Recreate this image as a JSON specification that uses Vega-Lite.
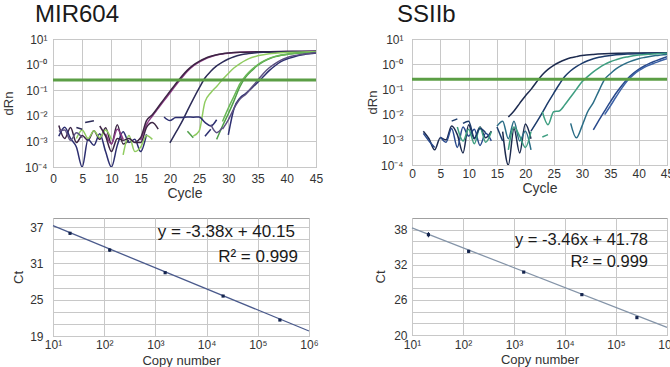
{
 "$schema": "https://vega.github.io/schema/vega-lite/v6.json",
 "background": "white",
 "padding": {"left": 1, "top": 2, "right": 0, "bottom": 0},
 "config": {
  "font": "Liberation Sans",
  "view": {"stroke": "#a0a0a0", "strokeWidth": 1},
  "axis": {"domain": false, "ticks": false, "grid": true, "gridColor": "#c8c8c8", "gridOpacity": 1, "labelFont": "Liberation Sans", "labelFontSize": 12, "labelColor": "#333333", "titleFont": "Liberation Sans", "titleFontSize": 13, "titleFontWeight": "normal", "titleColor": "#333333", "labelFlush": false, "labelOverlap": false},
  "title": {"font": "Liberation Sans", "fontSize": 24, "fontWeight": "normal", "color": "#1a1a1a", "anchor": "start"}
 },
 "datasets": {
  "mir": [
   {"s":"A1","c":15,"v":0.0011},{"s":"A1","c":16,"v":0.0045},{"s":"A1","c":17,"v":0.0098},{"s":"A1","c":18,"v":0.0195},{"s":"A1","c":19,"v":0.039},{"s":"A1","c":20,"v":0.078},{"s":"A1","c":21,"v":0.155},{"s":"A1","c":22,"v":0.3},{"s":"A1","c":23,"v":0.55},{"s":"A1","c":24,"v":0.89},{"s":"A1","c":25,"v":1.26},{"s":"A1","c":26,"v":1.66},{"s":"A1","c":27,"v":2.04},{"s":"A1","c":28,"v":2.37},{"s":"A1","c":29,"v":2.6},{"s":"A1","c":30,"v":2.79},{"s":"A1","c":32,"v":3.03},{"s":"A1","c":35,"v":3.16},{"s":"A1","c":40,"v":3.24},{"s":"A1","c":45,"v":3.3},
   {"s":"A2","c":14,"v":0.0009},{"s":"A2","c":15,"v":0.0014},{"s":"A2","c":16,"v":0.0065},{"s":"A2","c":17,"v":0.011},{"s":"A2","c":18,"v":0.022},{"s":"A2","c":19,"v":0.045},{"s":"A2","c":20,"v":0.089},{"s":"A2","c":21,"v":0.178},{"s":"A2","c":22,"v":0.343},{"s":"A2","c":23,"v":0.61},{"s":"A2","c":24,"v":0.955},{"s":"A2","c":25,"v":1.33},{"s":"A2","c":26,"v":1.74},{"s":"A2","c":27,"v":2.11},{"s":"A2","c":28,"v":2.43},{"s":"A2","c":29,"v":2.66},{"s":"A2","c":30,"v":2.82},{"s":"A2","c":32,"v":3.04},{"s":"A2","c":35,"v":3.16},{"s":"A2","c":40,"v":3.24},{"s":"A2","c":45,"v":3.32},
   {"s":"B","c":20,"v":0.00087},{"s":"B","c":21,"v":0.0022},{"s":"B","c":22,"v":0.0055},{"s":"B","c":23,"v":0.016},{"s":"B","c":24,"v":0.045},{"s":"B","c":25,"v":0.12},{"s":"B","c":26,"v":0.3},{"s":"B","c":27,"v":0.55},{"s":"B","c":28,"v":0.89},{"s":"B","c":29,"v":1.26},{"s":"B","c":30,"v":1.66},{"s":"B","c":31,"v":2.04},{"s":"B","c":32,"v":2.37},{"s":"B","c":33,"v":2.6},{"s":"B","c":34,"v":2.79},{"s":"B","c":36,"v":3.03},{"s":"B","c":39,"v":3.16},{"s":"B","c":42,"v":3.24},{"s":"B","c":45,"v":3.28},
   {"s":"C","c":24,"v":0.0016},{"s":"C","c":25,"v":0.0025},{"s":"C","c":26,"v":0.035},{"s":"C","c":27,"v":0.08},{"s":"C","c":28,"v":0.14},{"s":"C","c":29,"v":0.26},{"s":"C","c":30,"v":0.45},{"s":"C","c":31,"v":0.75},{"s":"C","c":32,"v":1.1},{"s":"C","c":33,"v":1.5},{"s":"C","c":34,"v":1.9},{"s":"C","c":35,"v":2.2},{"s":"C","c":36,"v":2.45},{"s":"C","c":37,"v":2.65},{"s":"C","c":38,"v":2.8},{"s":"C","c":40,"v":3.0},{"s":"C","c":43,"v":3.1},{"s":"C","c":45,"v":3.2},
   {"s":"D1","c":28,"v":0.0012},{"s":"D1","c":29,"v":0.004},{"s":"D1","c":30,"v":0.012},{"s":"D1","c":31,"v":0.04},{"s":"D1","c":32,"v":0.14},{"s":"D1","c":33,"v":0.33},{"s":"D1","c":34,"v":0.58},{"s":"D1","c":35,"v":0.92},{"s":"D1","c":36,"v":1.3},{"s":"D1","c":37,"v":1.7},{"s":"D1","c":38,"v":2.05},{"s":"D1","c":39,"v":2.3},{"s":"D1","c":40,"v":2.5},{"s":"D1","c":41,"v":2.65},{"s":"D1","c":43,"v":2.85},{"s":"D1","c":45,"v":3.0},
   {"s":"D2","c":29,"v":0.006},{"s":"D2","c":30,"v":0.02},{"s":"D2","c":31,"v":0.06},{"s":"D2","c":32,"v":0.18},{"s":"D2","c":33,"v":0.38},{"s":"D2","c":34,"v":0.64},{"s":"D2","c":35,"v":0.98},{"s":"D2","c":36,"v":1.36},{"s":"D2","c":37,"v":1.75},{"s":"D2","c":38,"v":2.08},{"s":"D2","c":39,"v":2.35},{"s":"D2","c":40,"v":2.55},{"s":"D2","c":41,"v":2.7},{"s":"D2","c":43,"v":2.9},{"s":"D2","c":45,"v":3.05},
   {"s":"E1","c":30,"v":0.0018},{"s":"E1","c":31,"v":0.02},{"s":"E1","c":32,"v":0.05},{"s":"E1","c":33,"v":0.075},{"s":"E1","c":34,"v":0.12},{"s":"E1","c":35,"v":0.2},{"s":"E1","c":36,"v":0.34},{"s":"E1","c":37,"v":0.58},{"s":"E1","c":38,"v":0.9},{"s":"E1","c":39,"v":1.3},{"s":"E1","c":40,"v":1.65},{"s":"E1","c":41,"v":1.95},{"s":"E1","c":42,"v":2.25},{"s":"E1","c":43,"v":2.5},{"s":"E1","c":45,"v":2.85},
   {"s":"E2","c":29,"v":0.003},{"s":"E2","c":30,"v":0.007},{"s":"E2","c":31,"v":0.02},{"s":"E2","c":32,"v":0.045},{"s":"E2","c":33,"v":0.07},{"s":"E2","c":34,"v":0.13},{"s":"E2","c":35,"v":0.24},{"s":"E2","c":36,"v":0.45},{"s":"E2","c":37,"v":0.75},{"s":"E2","c":38,"v":1.1},{"s":"E2","c":39,"v":1.5},{"s":"E2","c":40,"v":1.85},{"s":"E2","c":41,"v":2.15},{"s":"E2","c":42,"v":2.4},{"s":"E2","c":43,"v":2.6},{"s":"E2","c":45,"v":2.9},
   {"s":"A2","g":"a","c":1,"v":0.0042},{"s":"A2","g":"a","c":2,"v":0.0013},{"s":"A2","g":"a","c":3,"v":0.0035},{"s":"A2","g":"a","c":4,"v":0.0009},{"s":"A2","g":"a","c":5,"v":0.0017},{"s":"A2","g":"a","c":6,"v":0.0011},{"s":"A2","g":"a","c":7,"v":0.0026},{"s":"A2","g":"a","c":8,"v":0.0012},{"s":"A2","g":"a","c":9,"v":0.0034},{"s":"A2","g":"a","c":10,"v":0.0008},{"s":"A2","g":"a","c":11,"v":0.0045},{"s":"A2","g":"a","c":12,"v":0.0008},{"s":"A2","g":"a","c":13,"v":0.0011},
   {"s":"E1","g":"b","c":1,"v":0.0016},{"s":"E1","g":"b","c":2,"v":0.0036},{"s":"E1","g":"b","c":3,"v":0.0013},{"s":"E1","g":"b","c":4,"v":0.0006},{"s":"E1","g":"b","c":5,"v":0.0001},{"s":"E1","g":"b","c":6,"v":0.0012},{"s":"E1","g":"b","c":7,"v":0.0007},{"s":"E1","g":"b","c":8,"v":0.002},{"s":"E1","g":"b","c":9,"v":0.0004},{"s":"E1","g":"b","c":10,"v":0.0001},{"s":"E1","g":"b","c":11,"v":0.0007},{"s":"E1","g":"b","c":12,"v":0.0024},{"s":"E1","g":"b","c":13,"v":0.0009},{"s":"E1","g":"b","c":14,"v":0.0012},{"s":"E1","g":"b","c":15,"v":0.0004},{"s":"E1","g":"b","c":16,"v":0.0019},
   {"s":"C","g":"c","c":4,"v":0.0013},{"s":"C","g":"c","c":5,"v":0.0028},{"s":"C","g":"c","c":6,"v":0.0013},{"s":"C","g":"c","c":7,"v":0.0026},{"s":"C","g":"c","c":8,"v":0.0014},{"s":"C","g":"c","c":9,"v":0.0028},{"s":"C","g":"c","c":10,"v":0.0012},
   {"s":"C","g":"d","c":12,"v":0.0003},{"s":"C","g":"d","c":13,"v":0.0017},{"s":"C","g":"d","c":14,"v":0.0004},{"s":"C","g":"d","c":15,"v":0.0006},{"s":"C","g":"d","c":16,"v":0.0017},{"s":"C","g":"d","c":17,"v":0.0012},
   {"s":"A1","g":"e","c":9,"v":0.002},{"s":"A1","g":"e","c":10,"v":0.0008},{"s":"A1","g":"e","c":11,"v":0.003},{"s":"A1","g":"e","c":12,"v":0.0012},
   {"s":"B","g":"f","c":5.5,"v":0.0055},{"s":"B","g":"f","c":7,"v":0.0064},
   {"s":"B","g":"h","c":4,"v":0.0035},{"s":"B","g":"h","c":5,"v":0.003},
   {"s":"E1","g":"i","c":19,"v":0.009},{"s":"E1","g":"i","c":20,"v":0.0065},{"s":"E1","g":"i","c":21,"v":0.0085},{"s":"E1","g":"i","c":22,"v":0.0085},{"s":"E1","g":"i","c":23,"v":0.009},{"s":"E1","g":"i","c":24,"v":0.0088},{"s":"E1","g":"i","c":25,"v":0.009},{"s":"E1","g":"i","c":26,"v":0.0055},{"s":"E1","g":"i","c":27,"v":0.004},{"s":"E1","g":"i","c":28,"v":0.007},
   {"s":"E2","g":"j","c":1,"v":0.0025},{"s":"E2","g":"j","c":2,"v":0.0028},{"s":"E2","g":"j","c":3,"v":0.0011},{"s":"E2","g":"j","c":4,"v":0.0022},{"s":"E2","g":"j","c":5,"v":0.0014},
   {"s":"A2","g":"k","c":8,"v":0.004},{"s":"A2","g":"k","c":9,"v":0.0016},{"s":"A2","g":"k","c":10,"v":0.0004},{"s":"A2","g":"k","c":11,"v":0.0013},{"s":"A2","g":"k","c":12,"v":0.0011},{"s":"A2","g":"k","c":13,"v":0.0013},{"s":"A2","g":"k","c":14,"v":0.0009},{"s":"A2","g":"k","c":15,"v":0.0009},{"s":"A2","g":"k","c":16,"v":0.0035},{"s":"A2","g":"k","c":17,"v":0.0055},{"s":"A2","g":"k","c":18,"v":0.003},
   {"s":"D1","g":"l","c":23,"v":0.0025},{"s":"D1","g":"l","c":24,"v":0.0014},
   {"s":"E1","g":"m","c":26,"v":0.0016},{"s":"E1","g":"m","c":27,"v":0.003},
   {"s":"E2","g":"n","c":27,"v":0.0045},{"s":"E2","g":"n","c":28,"v":0.0022},{"s":"E2","g":"n","c":29,"v":0.0035}
  ],
  "ss": [
   {"s":"F","c":17,"v":0.008},{"s":"F","c":18,"v":0.014},{"s":"F","c":19,"v":0.028},{"s":"F","c":20,"v":0.055},{"s":"F","c":21,"v":0.1},{"s":"F","c":22,"v":0.2},{"s":"F","c":23,"v":0.38},{"s":"F","c":24,"v":0.62},{"s":"F","c":25,"v":0.9},{"s":"F","c":26,"v":1.2},{"s":"F","c":27,"v":1.5},{"s":"F","c":28,"v":1.8},{"s":"F","c":29,"v":2.0},{"s":"F","c":30,"v":2.2},{"s":"F","c":32,"v":2.45},{"s":"F","c":34,"v":2.6},{"s":"F","c":37,"v":2.72},{"s":"F","c":40,"v":2.8},{"s":"F","c":45,"v":2.85},
   {"s":"G","c":21,"v":0.0022},{"s":"G","c":22,"v":0.005},{"s":"G","c":23,"v":0.012},{"s":"G","c":24,"v":0.03},{"s":"G","c":25,"v":0.07},{"s":"G","c":26,"v":0.16},{"s":"G","c":27,"v":0.33},{"s":"G","c":28,"v":0.55},{"s":"G","c":29,"v":0.8},{"s":"G","c":30,"v":1.08},{"s":"G","c":31,"v":1.37},{"s":"G","c":32,"v":1.65},{"s":"G","c":33,"v":1.88},{"s":"G","c":34,"v":2.05},{"s":"G","c":36,"v":2.35},{"s":"G","c":38,"v":2.55},{"s":"G","c":41,"v":2.7},{"s":"G","c":45,"v":2.8},
   {"s":"H","c":23,"v":0.013},{"s":"H","c":24,"v":0.004},{"s":"H","c":25,"v":0.013},{"s":"H","c":26,"v":0.014},{"s":"H","c":27,"v":0.025},{"s":"H","c":28,"v":0.05},{"s":"H","c":29,"v":0.1},{"s":"H","c":30,"v":0.2},{"s":"H","c":31,"v":0.32},{"s":"H","c":32,"v":0.5},{"s":"H","c":33,"v":0.72},{"s":"H","c":34,"v":0.98},{"s":"H","c":35,"v":1.25},{"s":"H","c":36,"v":1.5},{"s":"H","c":37,"v":1.75},{"s":"H","c":38,"v":1.95},{"s":"H","c":40,"v":2.3},{"s":"H","c":42,"v":2.5},{"s":"H","c":45,"v":2.7},
   {"s":"I","c":28,"v":0.0045},{"s":"I","c":29,"v":0.0012},{"s":"I","c":30,"v":0.0035},{"s":"I","c":31,"v":0.013},{"s":"I","c":32,"v":0.03},{"s":"I","c":33,"v":0.09},{"s":"I","c":34,"v":0.25},{"s":"I","c":35,"v":0.42},{"s":"I","c":36,"v":0.65},{"s":"I","c":37,"v":0.9},{"s":"I","c":38,"v":1.15},{"s":"I","c":39,"v":1.4},{"s":"I","c":40,"v":1.65},{"s":"I","c":41,"v":1.85},{"s":"I","c":43,"v":2.2},{"s":"I","c":45,"v":2.45},
   {"s":"J1","c":32,"v":0.0025},{"s":"J1","c":33,"v":0.006},{"s":"J1","c":34,"v":0.014},{"s":"J1","c":35,"v":0.032},{"s":"J1","c":36,"v":0.07},{"s":"J1","c":37,"v":0.14},{"s":"J1","c":38,"v":0.26},{"s":"J1","c":39,"v":0.42},{"s":"J1","c":40,"v":0.62},{"s":"J1","c":41,"v":0.85},{"s":"J1","c":42,"v":1.1},{"s":"J1","c":43,"v":1.35},{"s":"J1","c":44,"v":1.65},{"s":"J1","c":45,"v":2.0},
   {"s":"J2","c":34,"v":0.01},{"s":"J2","c":35,"v":0.022},{"s":"J2","c":36,"v":0.05},{"s":"J2","c":37,"v":0.11},{"s":"J2","c":38,"v":0.22},{"s":"J2","c":39,"v":0.37},{"s":"J2","c":40,"v":0.55},{"s":"J2","c":41,"v":0.75},{"s":"J2","c":42,"v":0.95},{"s":"J2","c":43,"v":1.15},{"s":"J2","c":44,"v":1.4},{"s":"J2","c":45,"v":1.65},
   {"s":"F","g":"a","c":2,"v":0.0022},{"s":"F","g":"a","c":3,"v":0.0011},{"s":"F","g":"a","c":4,"v":0.0004},{"s":"F","g":"a","c":5,"v":0.0012},{"s":"F","g":"a","c":6,"v":0.001},{"s":"F","g":"a","c":7,"v":0.0035},{"s":"F","g":"a","c":8,"v":0.0016},{"s":"F","g":"a","c":9,"v":0.0003},{"s":"F","g":"a","c":10,"v":0.004},{"s":"F","g":"a","c":11,"v":0.0011},{"s":"F","g":"a","c":12,"v":0.0032},{"s":"F","g":"a","c":13,"v":0.0012},{"s":"F","g":"a","c":14,"v":0.0022},
   {"s":"J1","g":"b","c":2,"v":0.0018},{"s":"J1","g":"b","c":3,"v":0.0009},{"s":"J1","g":"b","c":4,"v":0.0005},
   {"s":"J1","g":"c","c":5,"v":0.0013},{"s":"J1","g":"c","c":6,"v":0.0008},{"s":"J1","g":"c","c":7,"v":0.0028},{"s":"J1","g":"c","c":8,"v":0.0005},{"s":"J1","g":"c","c":9,"v":0.0032},{"s":"J1","g":"c","c":10,"v":0.0014},{"s":"J1","g":"c","c":11,"v":0.0026},{"s":"J1","g":"c","c":12,"v":0.0006},{"s":"J1","g":"c","c":13,"v":0.0018},{"s":"J1","g":"c","c":14,"v":0.0009},
   {"s":"H","g":"d","c":8,"v":0.0032},{"s":"H","g":"d","c":9,"v":0.0009},{"s":"H","g":"d","c":10,"v":0.0026},{"s":"H","g":"d","c":11,"v":0.0007},{"s":"H","g":"d","c":12,"v":0.0031},{"s":"H","g":"d","c":13,"v":0.0008},{"s":"H","g":"d","c":14,"v":0.0021},
   {"s":"G","g":"e","c":7,"v":0.0055},{"s":"G","g":"e","c":8,"v":0.0068},
   {"s":"G","g":"f","c":9,"v":0.0045},{"s":"G","g":"f","c":10,"v":0.0055},{"s":"G","g":"f","c":11,"v":0.0012},{"s":"G","g":"f","c":12,"v":0.0028},{"s":"G","g":"f","c":13,"v":0.0019},
   {"s":"F","g":"g","c":16,"v":0.0021},{"s":"F","g":"g","c":17,"v":0.0001},{"s":"F","g":"g","c":18,"v":0.0028},{"s":"F","g":"g","c":19,"v":0.0003},{"s":"F","g":"g","c":20,"v":0.0042},{"s":"F","g":"g","c":21,"v":0.0011},
   {"s":"I","g":"h","c":15,"v":0.0035},{"s":"I","g":"h","c":16,"v":0.0055},{"s":"I","g":"h","c":17,"v":0.0011},{"s":"I","g":"h","c":18,"v":0.0055},{"s":"I","g":"h","c":19,"v":0.0009},{"s":"I","g":"h","c":20,"v":0.0022},{"s":"I","g":"h","c":21,"v":0.0004},
   {"s":"H","g":"i","c":17,"v":0.0004},{"s":"H","g":"i","c":18,"v":0.0032},{"s":"H","g":"i","c":19,"v":0.0014},{"s":"H","g":"i","c":20,"v":0.0005},{"s":"H","g":"i","c":21,"v":0.0021},
   {"s":"G","g":"j","c":15,"v":0.0032},{"s":"G","g":"j","c":16,"v":0.0009},
   {"s":"H","g":"k","c":23,"v":0.0013},{"s":"H","g":"k","c":24,"v":0.0016}
  ],
  "thr": [{"t": 0.25}],
  "bl_line": [{"n": 10, "ct": 37.23}, {"n": 1000000, "ct": 19.83}],
  "bl_pts": [
   {"n": 21.5, "ct": 35.97, "lo": 35.75, "hi": 36.2},
   {"n": 128, "ct": 33.2, "lo": 32.9, "hi": 33.5},
   {"n": 1550, "ct": 29.46, "lo": 29.35, "hi": 29.57},
   {"n": 21000, "ct": 25.6, "lo": 25.5, "hi": 25.7},
   {"n": 270000, "ct": 21.64, "lo": 21.55, "hi": 21.73}
  ],
  "bl_txt": [
   {"n": 530000, "ct": 36.2, "label": "y = -3.38x + 40.15"},
   {"n": 610000, "ct": 32.06, "label": "R² = 0.999"}
  ],
  "br_line": [{"n": 10, "ct": 38.3}, {"n": 1000000, "ct": 21.3}],
  "br_pts": [
   {"n": 21, "ct": 37.15, "lo": 36.7, "hi": 37.6},
   {"n": 129, "ct": 34.3, "lo": 34.05, "hi": 34.55},
   {"n": 1550, "ct": 30.75, "lo": 30.65, "hi": 30.85},
   {"n": 21400, "ct": 26.9, "lo": 26.8, "hi": 27.0},
   {"n": 257000, "ct": 22.97, "lo": 22.87, "hi": 23.07}
  ],
  "br_txt": [
   {"n": 424000, "ct": 36.3, "label": "y = -3.46x + 41.78"},
   {"n": 424000, "ct": 32.4, "label": "R² = 0.999"}
  ]
 },
 "bounds": "flush",
 "columns": 2,
 "spacing": {"row": 51, "column": 96},
 "resolve": {"scale": {"color": "independent"}},
 "concat": [
    {
     "width": 263, "height": 128,
     "title": {"text": "MIR604", "frame": "group", "dx": -18, "offset": 6},
     "layer": [
      {
       "data": {"name": "mir"},
       "mark": {"type": "line", "strokeWidth": 1.5, "interpolate": "monotone", "clip": true},
       "encoding": {
        "x": {"field": "c", "type": "quantitative", "scale": {"domain": [0, 45], "nice": false, "zero": false}, "axis": {"values": [0,5,10,15,20,25,30,35,40,45], "tickCount": 50, "format": "d", "title": "Cycle", "labelPadding": 6, "titlePadding": 2, "titleFontSize": 14}},
        "y": {"field": "v", "type": "quantitative", "scale": {"type": "log", "domain": [0.0001, 10], "nice": false}, "axis": {"values": [10,1,0.1,0.01,0.001,0.0001], "tickCount": 50, "labelExpr": "'10' + ['⁻⁴','⁻³','⁻²','⁻¹','⁻⁰','¹'][round(log(datum.value)/LN10)+4]", "title": "dRn", "labelPadding": 6, "titlePadding": 9}},
        "color": {"field": "s", "type": "nominal", "scale": {"domain": ["A1","A2","B","C","D1","D2","E1","E2"], "range": ["#8c3b86","#3d2544","#2c2b58","#90cc60","#4f9f48","#6ab857","#2d2f70","#5d5282"]}, "legend": null},
        "detail": {"field": "g"}
       }
      },
      {
       "data": {"name": "thr"},
       "mark": {"type": "rule", "color": "#5b9e45", "strokeWidth": 3},
       "encoding": {"y": {"field": "t", "type": "quantitative"}}
      }
     ]
    },
    {
     "width": 255, "height": 126,
     "title": {"text": "SSIIb", "frame": "group", "dx": -15, "offset": 6},
     "layer": [
      {
       "data": {"name": "ss"},
       "mark": {"type": "line", "strokeWidth": 1.5, "interpolate": "monotone", "clip": true},
       "encoding": {
        "x": {"field": "c", "type": "quantitative", "scale": {"domain": [0, 45], "nice": false, "zero": false}, "axis": {"values": [0,5,10,15,20,25,30,35,40,45], "tickCount": 50, "format": "d", "title": "Cycle", "labelPadding": 3, "titlePadding": 2, "titleFontSize": 14}},
        "y": {"field": "v", "type": "quantitative", "scale": {"type": "log", "domain": [0.0001, 10], "nice": false}, "axis": {"values": [10,1,0.1,0.01,0.001,0.0001], "tickCount": 50, "labelExpr": "'10' + ['⁻⁴','⁻³','⁻²','⁻¹','⁻⁰','¹'][round(log(datum.value)/LN10)+4]", "title": "dRn", "labelPadding": 9, "titlePadding": 1}},
        "color": {"field": "s", "type": "nominal", "scale": {"domain": ["F","G","H","I","J1","J2"], "range": ["#1d2b4f","#1c3b6b","#3e9e80","#2b6d86","#28498c","#3d62a6"]}, "legend": null},
        "detail": {"field": "g"}
       }
      },
      {
       "data": {"name": "thr"},
       "mark": {"type": "rule", "color": "#5b9e45", "strokeWidth": 3},
       "encoding": {"y": {"field": "t", "type": "quantitative"}}
      }
     ]
    },
    {
     "width": 256, "height": 118,
     "layer": [
      {
       "data": {"name": "bl_line"},
       "mark": {"type": "line", "color": "#4a5a8c", "strokeWidth": 1.3},
       "encoding": {
        "x": {"field": "n", "type": "quantitative", "scale": {"type": "log", "domain": [10, 1000000], "nice": false}, "axis": {"values": [10,100,1000,10000,100000,1000000], "tickCount": 50, "labelExpr": "'10' + ['¹','²','³','⁴','⁵','⁶'][round(log(datum.value)/LN10)-1]", "title": "Copy number", "labelPadding": 3, "titlePadding": 4}},
        "y": {"field": "ct", "type": "quantitative", "scale": {"domain": [19, 38.5], "nice": false, "zero": false}, "axis": {"values": [19,21,23,25,27,29,31,33,35,37], "tickCount": 50, "format": "d", "labelExpr": "(datum.value - 19) % 6 == 0 ? datum.label : ''", "title": "Ct", "labelPadding": 10, "titlePadding": 4}}
       }
      },
      {
       "data": {"name": "bl_pts"},
       "mark": {"type": "rule", "color": "#14244e", "strokeWidth": 1},
       "encoding": {"x": {"field": "n", "type": "quantitative"}, "y": {"field": "lo", "type": "quantitative"}, "y2": {"field": "hi"}}
      },
      {
       "data": {"name": "bl_pts"},
       "mark": {"type": "square", "size": 10, "color": "#14244e", "filled": true, "opacity": 1},
       "encoding": {"x": {"field": "n", "type": "quantitative"}, "y": {"field": "ct", "type": "quantitative"}}
      },
      {
       "data": {"name": "bl_txt"},
       "mark": {"type": "text", "align": "right", "baseline": "middle", "fontSize": 17, "font": "Liberation Sans", "color": "#1a1a1a"},
       "encoding": {"x": {"field": "n", "type": "quantitative"}, "y": {"field": "ct", "type": "quantitative"}, "text": {"field": "label"}}
      }
     ]
    },
    {
     "width": 255, "height": 117,
     "layer": [
      {
       "data": {"name": "br_line"},
       "mark": {"type": "line", "color": "#8494a8", "strokeWidth": 1.3},
       "encoding": {
        "x": {"field": "n", "type": "quantitative", "scale": {"type": "log", "domain": [10, 1000000], "nice": false}, "axis": {"values": [10,100,1000,10000,100000,1000000], "tickCount": 50, "labelExpr": "'10' + ['¹','²','³','⁴','⁵','⁶'][round(log(datum.value)/LN10)-1]", "title": "Copy number", "labelPadding": 4, "titlePadding": 3}},
        "y": {"field": "ct", "type": "quantitative", "scale": {"domain": [20, 40], "nice": false, "zero": false}, "axis": {"values": [20,22,24,26,28,30,32,34,36,38], "tickCount": 50, "format": "d", "labelExpr": "(datum.value - 20) % 6 == 0 ? datum.label : ''", "title": "Ct", "labelPadding": 5, "titlePadding": 6}}
       }
      },
      {
       "data": {"name": "br_pts"},
       "mark": {"type": "rule", "color": "#14244e", "strokeWidth": 1},
       "encoding": {"x": {"field": "n", "type": "quantitative"}, "y": {"field": "lo", "type": "quantitative"}, "y2": {"field": "hi"}}
      },
      {
       "data": {"name": "br_pts"},
       "mark": {"type": "square", "size": 10, "color": "#14244e", "filled": true, "opacity": 1},
       "encoding": {"x": {"field": "n", "type": "quantitative"}, "y": {"field": "ct", "type": "quantitative"}}
      },
      {
       "data": {"name": "br_txt"},
       "mark": {"type": "text", "align": "right", "baseline": "middle", "fontSize": 16.5, "font": "Liberation Sans", "color": "#1a1a1a"},
       "encoding": {"x": {"field": "n", "type": "quantitative"}, "y": {"field": "ct", "type": "quantitative"}, "text": {"field": "label"}}
      }
     ]
    }
 ]
}
